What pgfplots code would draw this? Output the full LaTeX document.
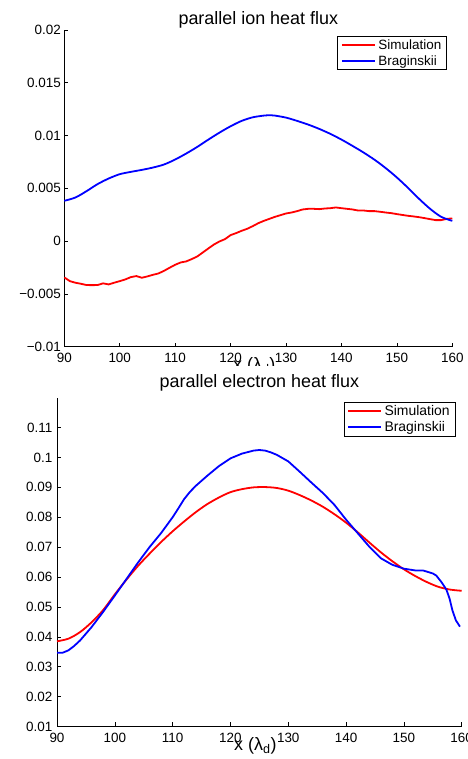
\documentclass[border=0pt]{standalone}
\usepackage{pgfplots}
\pgfplotsset{compat=1.18}
\usepackage{fontspec}
\setmainfont{Liberation Sans}
\begin{document}
\begin{tikzpicture}
\path[use as bounding box] (0bp,0bp) rectangle (468bp,759bp);
\clip (0bp,0bp) rectangle (468bp,759bp);
\pgfplotsset{
  mystyle/.style={
    scale only axis, clip=false,
    scaled x ticks=false, scaled y ticks=false,
    axis x line*=bottom, axis y line*=left,
    axis line style={-, line width=0.7bp},
    tick align=inside, major tick length=4bp,
    every tick/.style={black, line width=0.6bp},
    xmin=90, xmax=160,
    xtick={90,100,...,160},
    xticklabels={90,100,110,120,130,140,150,160},
    tick label style={font=\fontsize{13.5}{16}\selectfont, inner sep=0pt},
    xticklabel style={anchor=north, yshift=-6.5bp},
    title style={font=\fontsize{18}{21}\selectfont, anchor=base, at={(0.5,1)}},
    xlabel={x (λ\textsubscript{d})},
    xlabel style={font=\fontsize{18}{21}\selectfont, at={(axis description cs:0.5,0)}, anchor=base, yshift=-24bp, xshift=-4bp},
    legend cell align=left,
    legend image code/.code={\draw[##1, line width=2bp] (0bp,0bp) -- (33bp,0bp);},
    legend style={draw=black, line width=1bp, font=\fontsize{13.5}{16}\selectfont, anchor=north east, inner xsep=3bp, inner ysep=1bp, nodes={inner xsep=2.5bp, inner ysep=2.2bp}},
  }
}
\begin{axis}[mystyle,
  at={(64.3bp,412.3bp)}, anchor=south west,
  width=388bp, height=316.7bp,
  ymin=-0.01, ymax=0.02,
  ytick={-0.01,-0.005,0,0.005,0.01,0.015,0.02},
  yticklabels={−0.01,−0.005,0,0.005,0.01,0.015,0.02},
  yticklabel style={anchor=east, xshift=-3.3bp},
  title={parallel ion heat flux},
  title style={yshift=0bp},
  legend style={at={(0.987,0.981)}},
]
\addplot[red, line width=1.8bp] coordinates {
(90,-0.00344) (91,-0.00379) (92,-0.00394) (93,-0.00404) (94,-0.00416) (95,-0.00417) (96,-0.00416)
(97,-0.00400) (98,-0.00410) (99,-0.00394) (100,-0.00379) (101,-0.00363) (102,-0.00341)
(103,-0.00331) (104,-0.00347) (105,-0.00334) (106,-0.00319) (107,-0.00306) (108,-0.00281)
(109,-0.00252) (110,-0.00224) (111,-0.00202) (112,-0.00192) (113,-0.00170) (114,-0.00145)
(115,-0.00107) (116,-0.00069) (117,-0.00032) (118,-0.00003) (119,0.00019) (120,0.00057)
(121,0.00076) (122,0.00098) (123,0.00117) (124,0.00142) (125,0.00170) (126,0.00192)
(127,0.00211) (128,0.00230) (129,0.00246) (130,0.00262) (131,0.00271) (132,0.00284)
(133,0.00300) (134,0.00306) (135,0.00306) (136,0.00303) (137,0.00309) (138,0.00312)
(139,0.00319) (140,0.00312) (141,0.00306) (142,0.00300) (143,0.00290) (144,0.00290)
(145,0.00284) (146,0.00284) (147,0.00278) (148,0.00271) (149,0.00265) (150,0.00256)
(151,0.00248) (152,0.00240) (153,0.00234) (154,0.00227) (155,0.00218) (156,0.00208)
(157,0.00199) (158,0.00199) (159,0.00211) (160,0.00215)
};
\addlegendentry{Simulation}
\addplot[blue, line width=1.8bp, smooth] coordinates {
(90,0.00382) (92,0.00413) (94,0.00473) (96,0.00540) (98,0.00593) (100,0.00634)
(102,0.00656) (104,0.00675) (106,0.00697) (108,0.00726) (110,0.00773) (112,0.00830)
(114,0.00893) (116,0.00962) (118,0.01028) (120,0.01088) (122,0.01139) (124,0.01173)
(126,0.01189) (127,0.01192) (128,0.01189) (130,0.01170) (132,0.01139) (134,0.01104)
(136,0.01063) (138,0.01016) (140,0.00962) (142,0.00902) (144,0.00839) (146,0.00770)
(148,0.00691) (150,0.00603) (152,0.00505) (154,0.00401) (156,0.00306) (158,0.00230)
(160,0.00192)
};
\addlegendentry{Braginskii}
\end{axis}
\fill[white] (0bp,0bp) rectangle (468bp,393bp);
\begin{axis}[mystyle,
  at={(57bp,32.5bp)}, anchor=south west,
  width=404.7bp, height=328.8bp,
  ymin=0.01, ymax=0.12,
  ytick={0.01,0.02,0.03,0.04,0.05,0.06,0.07,0.08,0.09,0.1,0.11},
  yticklabels={0.01,0.02,0.03,0.04,0.05,0.06,0.07,0.08,0.09,0.1,0.11},
  yticklabel style={anchor=east, xshift=-4.4bp},
  title={parallel electron heat flux},
  title style={yshift=4bp},
  legend style={at={(0.985,0.988)}, font=\fontsize{14}{16}\selectfont},
]
\addplot[red, line width=1.8bp, smooth] coordinates {
(90,0.0385) (92,0.0394) (94,0.0416) (96,0.0449) (98,0.0490) (100,0.0542) (102,0.0591)
(104,0.0637) (106,0.0678) (108,0.0717) (110,0.0753) (112,0.0786) (114,0.0817) (116,0.0844)
(118,0.0866) (120,0.0884) (122,0.0894) (124,0.0900) (126,0.0901) (128,0.0898) (130,0.0889)
(132,0.0874) (134,0.0856) (136,0.0835) (138,0.0810) (140,0.0782) (142,0.0750) (144,0.0716)
(146,0.0683) (148,0.0653) (150,0.0626) (152,0.0603) (154,0.0583) (156,0.0567) (158,0.0558)
(160,0.0554)
};
\addlegendentry{Simulation}
\addplot[blue, line width=1.8bp] coordinates {
(90,0.0347) (91,0.0347) (92,0.0355) (93,0.0370) (94,0.0388) (96,0.0433) (98,0.0484) (100,0.0538)
(102,0.0593) (104,0.0648) (106,0.0700) (108,0.0747) (110,0.0800) (111,0.0830) (112,0.0861)
(113,0.0885) (114,0.0905) (116,0.0939) (118,0.0971) (120,0.0997) (122,0.1013) (124,0.1023)
(125,0.1025) (126,0.1023) (127,0.1017) (128,0.1009) (130,0.0987) (132,0.0952) (134,0.0916)
(136,0.0881) (138,0.0841) (140,0.0792) (142,0.0747) (144,0.0702) (146,0.0663) (148,0.0641)
(150,0.0628) (152,0.0622) (153.3,0.0622) (154,0.0618) (155,0.0612) (155.6,0.0605)
(156.5,0.0583) (157.35,0.0558) (157.9,0.0528) (158.4,0.0488) (159,0.0455) (159.7,0.0434)
};
\addlegendentry{Braginskii}
\end{axis}
\end{tikzpicture}
\end{document}
